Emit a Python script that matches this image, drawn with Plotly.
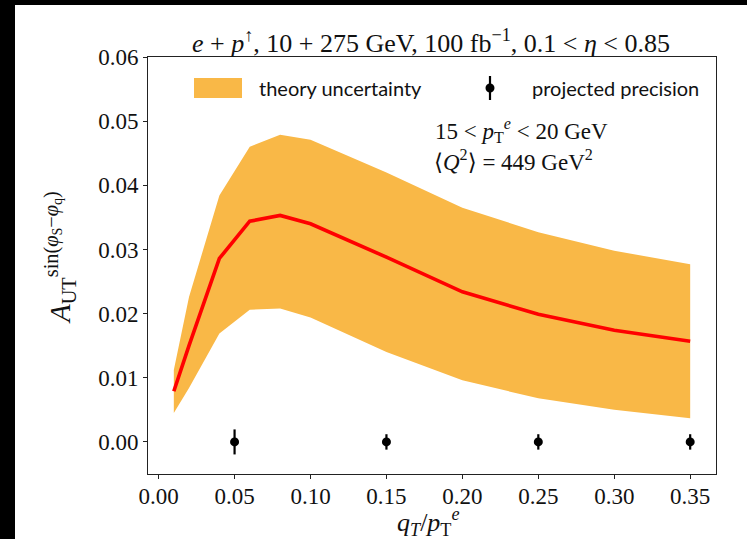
import plotly.graph_objects as go

# ---- data ----
x_theory = [0.01, 0.02, 0.04, 0.06, 0.08, 0.10, 0.15, 0.20, 0.25, 0.30, 0.35]
y_central = [0.0079, 0.0150, 0.0286, 0.0344, 0.0353, 0.0340, 0.0288, 0.0234, 0.0199, 0.0174, 0.0157]
y_upper = [0.0112, 0.0226, 0.0384, 0.0460, 0.0479, 0.0471, 0.0420, 0.0365, 0.0327, 0.0298, 0.0277]
y_lower = [0.0045, 0.0084, 0.0169, 0.0206, 0.0208, 0.0194, 0.0140, 0.0096, 0.0068, 0.0050, 0.0037]

x_proj = [0.05, 0.15, 0.25, 0.35]
y_proj = [0.0, 0.0, 0.0, 0.0]
err_proj = [0.00195, 0.0012, 0.0012, 0.0012]

x_ticks = [0.00, 0.05, 0.10, 0.15, 0.20, 0.25, 0.30, 0.35]
y_ticks = [0.00, 0.01, 0.02, 0.03, 0.04, 0.05, 0.06]

ORANGE = "#F9B847"
SERIF = "Liberation Serif, DejaVu Serif, serif"
SANS = "Lato, DejaVu Sans, sans-serif"

W, H = 747, 539
PAGE_L, PAGE_R, PAGE_T, PAGE_B = 148, 716, 57, 474
L, T = PAGE_L, PAGE_T
R, B = W - PAGE_R, H - PAGE_B
PW, PH = W - L - R, H - T - B


def px(xp):  # pixel x -> paper
    return (xp - L) / PW


def py(yp):  # pixel y -> paper
    return (H - B - yp) / PH


fig = go.Figure()

fig.add_trace(go.Scatter(x=x_theory, y=y_lower, mode="lines", line=dict(width=0, color=ORANGE),
                         showlegend=False, hoverinfo="skip"))
fig.add_trace(go.Scatter(x=x_theory, y=y_upper, mode="lines", line=dict(width=0, color=ORANGE),
                         fill="tonexty", fillcolor=ORANGE, showlegend=False))
fig.add_trace(go.Scatter(x=x_theory, y=y_central, mode="lines", line=dict(width=3.6, color="#FF0000"),
                         showlegend=False))
fig.add_trace(go.Scatter(x=x_proj, y=y_proj, mode="markers",
                         marker=dict(size=9, color="black"),
                         error_y=dict(type="data", array=err_proj, visible=True, thickness=2.2, width=0, color="black"),
                         showlegend=False))

axis_common = dict(showline=True, linecolor="#222", linewidth=1, mirror=True, ticks="outside",
                   ticklen=4, tickwidth=1, tickcolor="#222", showgrid=False, zeroline=False,
                   tickfont=dict(family=SERIF, size=23, color="#111"))

fig.update_xaxes(range=[-0.007, 0.367], tickvals=x_ticks, ticktext=[f"{v:.2f}" for v in x_ticks],
                 ticklabelstandoff=-3, **axis_common)
fig.update_yaxes(range=[-0.005, 0.06], tickvals=y_ticks, ticktext=[f"{v:.2f}" for v in y_ticks], **axis_common)

shapes = [
    # black border strips of the screenshot
    dict(type="rect", xref="paper", yref="paper", x0=px(0), x1=px(15), y0=py(H), y1=py(0),
         fillcolor="black", line=dict(width=0), layer="above"),
    dict(type="rect", xref="paper", yref="paper", x0=px(0), x1=px(W), y0=py(5), y1=py(0),
         fillcolor="black", line=dict(width=0), layer="above"),
    # legend: theory band patch
    dict(type="rect", xref="paper", yref="paper", x0=px(194), x1=px(242), y0=py(98), y1=py(78),
         fillcolor=ORANGE, line=dict(width=0)),
    # legend: errorbar marker
    dict(type="line", xref="paper", yref="paper", x0=px(490), x1=px(490), y0=py(100), y1=py(76),
         line=dict(color="black", width=2.2)),
    dict(type="circle", xref="paper", yref="paper", x0=px(485.5), x1=px(494.5), y0=py(92.5), y1=py(83.5),
         fillcolor="black", line=dict(width=0)),
]

annotations = [
    dict(text="<i>e</i> + <i>p</i><sup>↑</sup>, 10 + 275 GeV, 100 fb<sup>−1</sup>, 0.1 &lt; <i>η</i> &lt; 0.85",
         xref="paper", yref="paper", x=px(431), y=py(41), xanchor="center", yanchor="middle",
         showarrow=False, font=dict(family=SERIF, size=26, color="#111")),
    dict(text="theory uncertainty", xref="paper", yref="paper", x=px(257), y=py(88),
         xanchor="left", yanchor="middle", showarrow=False, font=dict(family=SANS, size=20, color="#111")),
    dict(text="projected precision", xref="paper", yref="paper", x=px(530), y=py(88),
         xanchor="left", yanchor="middle", showarrow=False, font=dict(family=SANS, size=20, color="#111")),
    dict(text="15 &lt; <i>p</i><sub>T</sub><sup><i>e</i></sup> &lt; 20 GeV", xref="paper", yref="paper",
         x=px(433), y=py(130), xanchor="left", yanchor="middle", showarrow=False,
         font=dict(family=SERIF, size=23, color="#111")),
    dict(text="⟨<i>Q</i><sup>2</sup>⟩ = 449 GeV<sup>2</sup>", xref="paper", yref="paper",
         x=px(432), y=py(160), xanchor="left", yanchor="middle", showarrow=False,
         font=dict(family=SERIF, size=23, color="#111")),
    dict(text="<i>q</i><sub><i>T</i></sub>/<i>p</i><sub>T</sub><sup><i>e</i></sup>", xref="paper", yref="paper",
         x=px(395), y=py(522), xanchor="left", yanchor="middle", showarrow=False,
         font=dict(family=SERIF, size=26, color="#111")),
    dict(text="<i>A</i><sub>UT</sub><sup>sin(<i>φ</i><sub>S</sub>−<i>φ</i><sub>q</sub>)</sup>", xref="paper", yref="paper",
         x=px(60), y=py(258), xanchor="center", yanchor="middle", textangle=-90, showarrow=False,
         font=dict(family=SERIF, size=29, color="#111")),
]

fig.update_layout(width=W, height=H, margin=dict(l=L, r=R, t=T, b=B),
                  paper_bgcolor="white", plot_bgcolor="white",
                  shapes=shapes, annotations=annotations, showlegend=False)

fig.write_html("out.html", config={"displayModeBar": False},
               post_script="document.body.style.margin='0px';")
